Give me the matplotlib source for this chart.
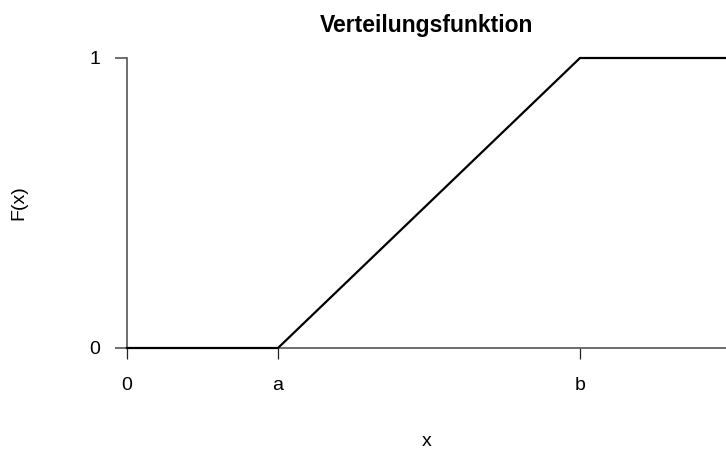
import matplotlib
matplotlib.use("Agg")
import matplotlib.pyplot as plt

plt.rcParams['font.family'] = ['Liberation Sans', 'DejaVu Sans']

# piecewise linear CDF of a uniform distribution on [a, b]
x_vals = [0, 1, 3, 4]
F_vals = [0, 0, 1, 1]
x_ticks = [0, 1, 3]
x_ticklabels = ["0", "a", "b"]
y_ticks = [0, 1]
y_ticklabels = ["0", "1"]

fig = plt.figure(figsize=(7.26, 4.57), dpi=100)
ax = fig.add_axes([127/726, 1 - 348/457, 1 - 127/726, (348 - 58)/457])

ax.plot(x_vals, F_vals, color='black', lw=1.6, clip_on=False, zorder=3)

ax.set_xlim(0, 599/151)
ax.set_ylim(0, 1)

for side in ['top', 'right']:
    ax.spines[side].set_visible(False)
ax.spines['left'].set_color('#555555')
ax.spines['left'].set_linewidth(1.2)
ax.spines['bottom'].set_color('#555555')
ax.spines['bottom'].set_linewidth(1.2)

ax.set_xticks(x_ticks)
ax.set_xticklabels(x_ticklabels)
ax.set_yticks(y_ticks)
ax.set_yticklabels(y_ticklabels)
ax.tick_params(axis='x', length=8, width=0.9, color='#222222', pad=13, labelsize=14)
ax.tick_params(axis='y', length=9, width=1.2, color='#555555', pad=10, labelsize=14)

ax.set_title("Verteilungsfunktion", fontweight='bold', fontsize=16.5, pad=19)
ax.set_xlabel("x", fontsize=14, labelpad=28)
ax.set_ylabel("F(x)", fontsize=14, labelpad=45)

fig.savefig("out.png", dpi=100)
